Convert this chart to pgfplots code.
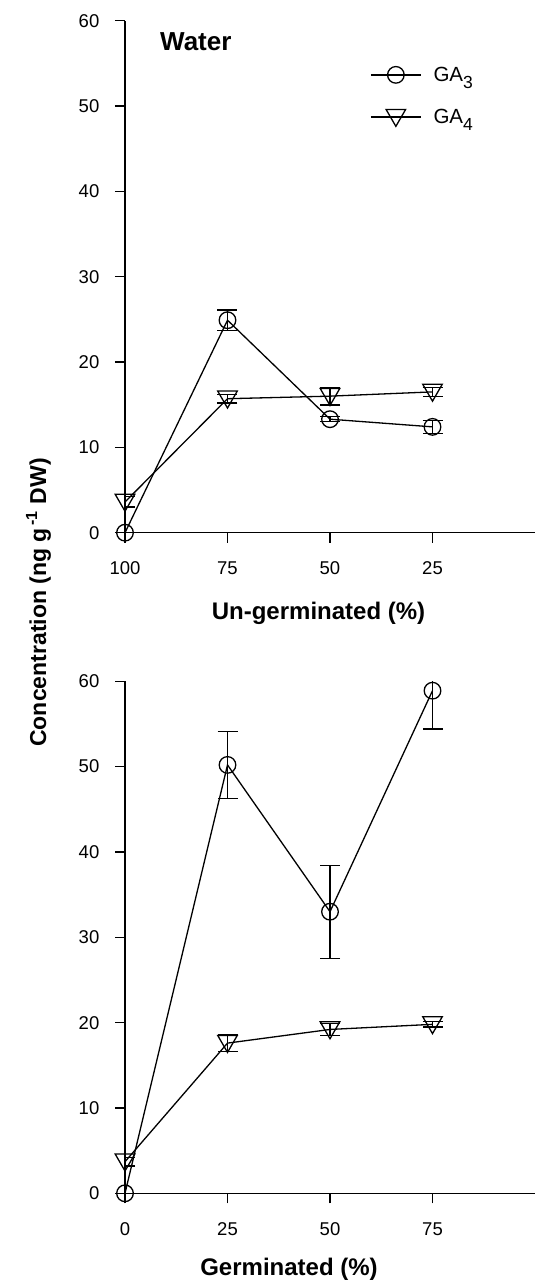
\documentclass[border=0pt]{standalone}
\usepackage{pgfplots}
\pgfplotsset{compat=1.18}
\usepackage{fontspec}
\setmainfont{Liberation Sans}

\pgfplotsset{
  myax/.style={
    scale only axis, width=410bp, height=512bp,
    xmin=0, xmax=100, ymin=0, ymax=60,
    axis x line*=bottom, axis y line*=left,
    axis line style={-, line width=1.5bp, black},
    tick align=outside, major tick length=10bp,
    tick style={line width=1.3bp, black},
    ytick={0,10,20,30,40,50,60},
    /pgf/number format/assume math mode=true,
    tick label style={font=\fontsize{18.5bp}{20bp}\selectfont, inner sep=0pt},
    xticklabel style={anchor=north, yshift=-19bp},
    yticklabel style={anchor=east, xshift=-15.5bp},
    xlabel style={font=\fontsize{24bp}{26bp}\selectfont\bfseries, inner sep=0pt, anchor=base},
  },
  s3/.style={black, line width=1.3bp, mark=o, mark size=8.3bp,
    mark options={solid, line width=1.3bp, fill=none},
    error bars/.cd, y dir=both, y explicit,
    error bar style={line width=1.3bp, black},
    error mark options={rotate=90, mark size=10bp, line width=1.3bp, black}},
  s4/.style={black, line width=1.3bp, mark=triangle, mark size=11.3bp,
    mark options={solid, rotate=180, yshift=-2bp, line width=1.3bp, fill=none},
    error bars/.cd, y dir=both, y explicit,
    error bar style={line width=1.3bp, black},
    error mark options={rotate=90, mark size=10bp, line width=1.3bp, black}},
}

\begin{document}
\begin{tikzpicture}[x=1bp,y=1bp]
\useasboundingbox (0,0) rectangle (535,1282);

% ---- Top panel: Water, un-germinated ----
\begin{axis}[myax, at={(125bp,749.3bp)}, anchor=south west,
  x dir=reverse, xtick={25,50,75,100},
  xlabel={Un-germinated (\%)},
  xlabel style={at={(axis description cs:0.472,-0.1705)}},
  legend style={at={(axis description cs:0.5976,0.852)}, anchor=west,
    draw=none, fill=none, inner sep=0pt, row sep=26bp,
    font=\fontsize{20.5bp}{22bp}\selectfont,
    cells={anchor=west},
    nodes={inner sep=0pt},
    /tikz/every odd column/.append style={column sep=12bp}},
  legend image code/.code={\draw[mark repeat=2, mark phase=2, #1]
    plot coordinates {(0bp,0bp) (25bp,0bp) (50bp,0bp)};},
]
\addplot+[s3] coordinates {
  (100,0) +- (0,0)
  (75,24.9) +- (0,1.2)
  (50,13.3) +- (0,0.3)
  (25,12.4) +- (0,0.75)
};
\addlegendentry{GA\raisebox{-0.33em}{\fontsize{17.5bp}{18bp}\selectfont 3}}
\addplot+[s4] coordinates {
  (100,3.6) +- (0,0.6)
  (75,15.7) +- (0,0.5)
  (50,16.0) +- (0,1.05)
  (25,16.5) +- (0,0.55)
};
\addlegendentry{GA\raisebox{-0.33em}{\fontsize{17.5bp}{18bp}\selectfont 4}}
\end{axis}

% ---- Bottom panel: germinated ----
\begin{axis}[myax, at={(125bp,88.7bp)}, anchor=south west,
  xtick={0,25,50,75},
  xlabel={Germinated (\%)},
  xlabel style={at={(axis description cs:0.4,-0.1596)}},
]
\addplot+[s3] coordinates {
  (0,0) +- (0,0)
  (25,50.2) +- (0,3.9)
  (50,33.0) +- (0,5.45)
  (75,58.9) +- (0,4.5)
};
\addplot+[s4] coordinates {
  (0,3.7) +- (0,0.5)
  (25,17.6) +- (0,1.0)
  (50,19.2) +- (0,0.7)
  (75,19.8) +- (0,0.3)
};
\end{axis}

\node[anchor=base west, inner sep=0pt, font=\fontsize{26bp}{28bp}\selectfont\bfseries]
  at (160,1231.3) {Water};
\node[rotate=90, anchor=base, inner sep=0pt, font=\fontsize{23bp}{25bp}\selectfont\bfseries]
  at (46,679.5) {Concentration (ng g\textsuperscript{\,-1} DW)};
\end{tikzpicture}
\end{document}
